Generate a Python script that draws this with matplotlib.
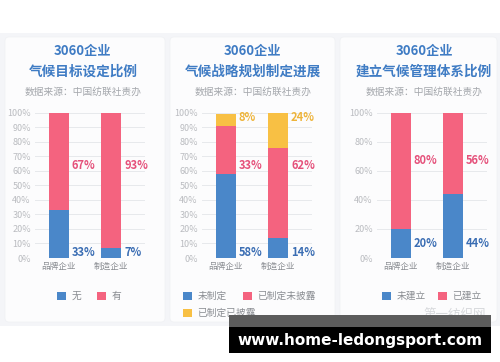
import matplotlib
matplotlib.use('Agg')
import matplotlib.pyplot as plt
import matplotlib.patches as patches

plt.rcParams['font.family'] = ['Noto Sans CJK SC', 'DejaVu Sans']

# Data
categories = ['品牌企业', '制造企业']

p1_title = ['3060企业', '气候目标设定比例']
p1_series = ['无', '有']
p1_values = [[33, 7], [67, 93]]

p2_title = ['3060企业', '气候战略规划制定进展']
p2_series = ['未制定', '已制定未披露', '已制定已披露']
p2_values = [[58, 14], [33, 62], [8, 24]]

p3_title = ['3060企业', '建立气候管理体系比例']
p3_series = ['未建立', '已建立']
p3_values = [[20, 44], [80, 56]]

source = '数据来源：中国纺联社责办'

bar_colors = ['#4a87c9', '#f4637f', '#f8c044']
text_colors = ['#3a6db3', '#e5507a', '#eeb43a']

W, H = 500, 362
fig = plt.figure(figsize=(5, 3.62), dpi=100)
fig.patch.set_facecolor('white')

bg = fig.add_axes([0, 0, 1, 1])
bg.set_xlim(0, W)
bg.set_ylim(H, 0)
bg.axis('off')
bg.add_patch(patches.Rectangle((0, 33), W, 293, facecolor='#f4f5f8', edgecolor='none', zorder=0))
for cx0, cx1 in [(5, 165), (170, 335), (340, 497)]:
    bg.add_patch(patches.FancyBboxPatch((cx0, 37), cx1 - cx0, 285,
                                        boxstyle='round,pad=0,rounding_size=4',
                                        facecolor='#fcfcfd', edgecolor='#f0f1f4',
                                        linewidth=0.5, zorder=1))

panels = [
    dict(title=p1_title, series=p1_series, values=p1_values, x0=35, tcx=83,
         ticks=range(0, 101, 10), label_y=[4, 64],
         legend=[(57, 296), (97, 296)]),
    dict(title=p2_title, series=p2_series, values=p2_values, x0=202, tcx=253,
         ticks=range(0, 101, 10), label_y=[4, 64, 97],
         legend=[(183, 296), (243, 296), (183, 313)]),
    dict(title=p3_title, series=p3_series, values=p3_values, x0=377, tcx=424,
         ticks=range(0, 101, 20), label_y=[10, 67],
         legend=[(382, 296), (438, 296)]),
]

ytop, ybot, aw = 112.7, 258, 110
for p in panels:
    ax = fig.add_axes([p['x0'] / W, 1 - ybot / H, aw / W, (ybot - ytop) / H])
    ax.set_facecolor('none')
    ax.set_xlim(-0.45, 1.65)
    ax.set_ylim(0, 100)
    x = range(len(categories))
    bottom = [0] * len(categories)
    for i, vals in enumerate(p['values']):
        ax.bar(x, vals, bottom=bottom, width=0.38, color=bar_colors[i], zorder=3)
        bottom = [b + v for b, v in zip(bottom, vals)]
        for j, v in enumerate(vals):
            ax.text(j + 0.25, p['label_y'][i], f'{v}%', color=text_colors[i],
                    fontsize=8, fontweight='bold', ha='left', va='center')
    ax.set_yticks(list(p['ticks']))
    ax.set_yticklabels([f'{t}%' for t in p['ticks']], fontsize=6.5, color='#babcc0')
    ax.set_xticks(list(x))
    ax.set_xticklabels(categories, fontsize=6.2, color='#8a8d92')
    ax.tick_params(length=0, pad=3)
    ax.grid(axis='y', color='#e7e9ec', linewidth=0.7, zorder=0)
    for s in ax.spines.values():
        s.set_visible(False)

    # titles
    bg.text(p['tcx'], 50.5, p['title'][0], color='#3f7cc4', fontsize=9.5,
            fontweight='bold', ha='center', va='center', zorder=5)
    bg.text(p['tcx'], 72, p['title'][1], color='#3f7cc4', fontsize=9.8,
            fontweight='bold', ha='center', va='center', zorder=5)
    bg.text(p['tcx'], 92, source, color='#a4a7ac', fontsize=7,
            ha='center', va='center', zorder=5)

    # legend
    for i, (lx, ly) in enumerate(p['legend']):
        bg.add_patch(patches.Rectangle((lx, ly - 4.2), 8.5, 8.5, facecolor=bar_colors[i],
                                       edgecolor='none', zorder=5))
        bg.text(lx + 14.5, ly, p['series'][i], color='#8a8d92', fontsize=7,
                ha='left', va='center', zorder=5)

# watermark boxes
bg.text(455, 315, '第一纺织网', color='#d6d8db', fontsize=9, ha='center', va='center', zorder=4)
bg.add_patch(patches.Rectangle((229, 315), 262, 12, facecolor='#5c5c5c', edgecolor='none', zorder=6))
bg.add_patch(patches.Rectangle((229, 327), 262, 26, facecolor='black', edgecolor='none', zorder=6))
bg.text(360, 340, 'www.home-ledongsport.com', color='white', fontsize=11,
        fontweight='bold', family='DejaVu Sans', ha='center', va='center', zorder=7)

fig.savefig('out.png', dpi=100, facecolor='white')
